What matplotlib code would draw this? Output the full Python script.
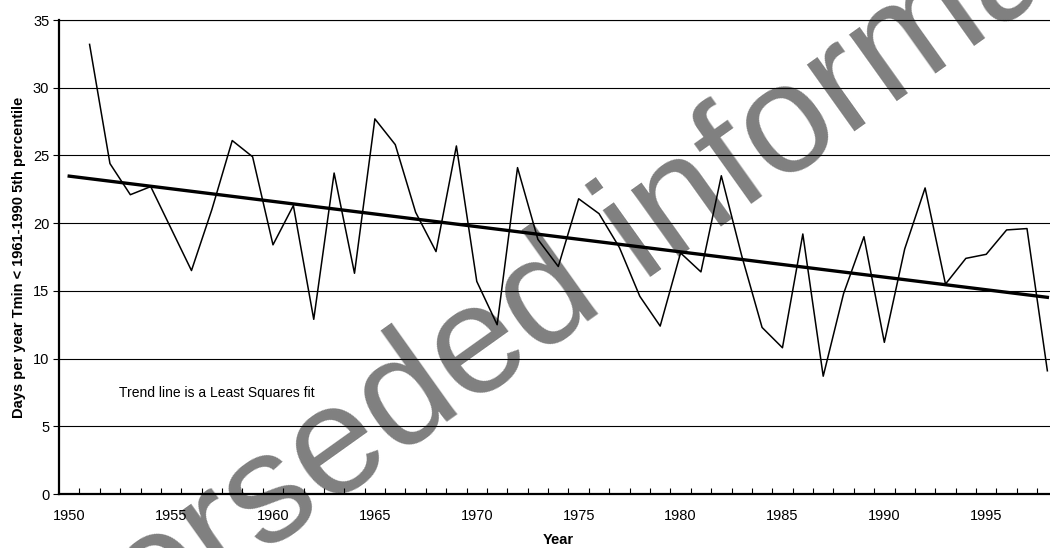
import numpy as np
import matplotlib
matplotlib.use('Agg')
import matplotlib.pyplot as plt
from matplotlib.ticker import MultipleLocator, FixedLocator

plt.rcParams['font.family'] = ['Liberation Sans', 'DejaVu Sans']

# Cold nights per year (Tmin below the 1961-1990 5th percentile).
years = np.arange(1951, 1999)
days = [33.2, 24.4, 22.1, 22.7, 19.6, 16.5, 21.0, 26.1, 24.9, 18.4,
        21.3, 12.9, 23.7, 16.3, 27.7, 25.8, 20.8, 17.9, 25.7, 15.7,
        12.5, 24.1, 18.8, 16.8, 21.8, 20.7, 18.2, 14.6, 12.4, 17.8,
        16.4, 23.5, 17.6, 12.3, 10.8, 19.2, 8.7, 14.8, 19.0, 11.2,
        18.1, 22.6, 15.5, 17.4, 17.7, 19.5, 19.6, 9.1]
trend_years = [1950, 1998]
label_years = list(range(1950, 2000, 5))

fig = plt.figure(figsize=(10.5, 5.48), dpi=100)
ax = fig.add_axes([0.0562, 0.0985, 0.951, 0.865])

# Least squares trend, extended back one year.
slope, icpt = np.polyfit(years, days, 1)
trend = [slope * y + icpt for y in trend_years]

ax.plot(years, days, color='black', lw=1.1, zorder=3)
ax.plot(trend_years, trend, color='black', lw=2.4, zorder=4)

ax.set_xlim(1949.5, 1998.5)
ax.set_ylim(0, 35)
ax.yaxis.set_major_locator(MultipleLocator(5))
ax.grid(axis='y', color='black', lw=0.8, zorder=2)
ax.set_axisbelow(False)

ax.set_xticks(label_years)
ax.xaxis.set_minor_locator(FixedLocator(np.arange(1950.5, 1999, 1)))
ax.tick_params(axis='x', which='major', length=0, pad=11, labelsize=10.5)
ax.tick_params(axis='x', which='minor', direction='in', length=4, width=0.8)
ax.tick_params(axis='y', direction='out', length=4, width=0.8, pad=3, labelsize=10.5)

ax.spines['right'].set_visible(False)
ax.spines['top'].set_linewidth(0.8)
ax.spines['left'].set_linewidth(1.6)
ax.spines['bottom'].set_linewidth(1.6)

ax.set_xlabel('Year', fontsize=10.5, fontweight='bold', labelpad=7)
ax.set_ylabel('Days per year Tmin < 1961-1990 5th percentile',
              fontsize=10.5, fontweight='bold', labelpad=5)

ax.text(1952.45, 7.45, 'Trend line is a Least Squares fit',
        fontsize=10, va='center', ha='left', zorder=5)

# Watermark, half-transparent over everything
fig.text(0.568, 0.424, 'Superseded information', fontsize=112,
         color='black', alpha=0.5, rotation=35.5,
         rotation_mode='anchor', ha='center', va='baseline', zorder=10)

fig.savefig('out.png', dpi=100)
